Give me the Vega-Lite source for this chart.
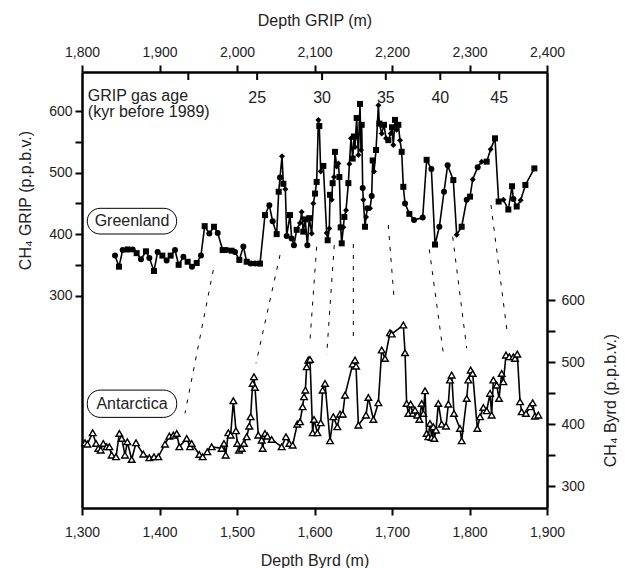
{
"$schema":"https://vega.github.io/schema/vega-lite/v6.json",
"width":465,"height":436,
"autosize":"none",
"padding":{"left":82,"top":72,"right":78,"bottom":60},
"config":{
 "view":{"stroke":null},
 "font":"Liberation Sans",
 "axis":{"grid":false,"domainColor":"black","domainWidth":2.5,"tickColor":"black","tickWidth":2,"tickSize":7,"labelFont":"Liberation Sans","labelFontSize":14,"labelColor":"#222","titleFont":"Liberation Sans","titleFontSize":16,"titleFontWeight":"normal","titleColor":"#222","labelFlush":false,"labelOverlap":false,"labelBound":false,"titleBaseline":"middle","titleAlign":"center"},
 "text":{"font":"Liberation Sans","fontSize":16,"color":"#222"}
},
"datasets":{
 "grip":[
{"depth":1842.6,"ch4":365,"lab":"c"},{"depth":1847.7,"ch4":347,"lab":"s"},{"depth":1852.5,"ch4":374,"lab":"c"},{"depth":1858.9,"ch4":375,"lab":"s"},{"depth":1865.4,"ch4":375,"lab":"c"},{"depth":1870.5,"ch4":369,"lab":"s"},{"depth":1876.1,"ch4":359,"lab":"c"},{"depth":1882.6,"ch4":372,"lab":"s"},{"depth":1886.9,"ch4":361,"lab":"c"},{"depth":1892.9,"ch4":340,"lab":"s"},{"depth":1897.6,"ch4":371,"lab":"c"},{"depth":1903.7,"ch4":365,"lab":"s"},{"depth":1909.2,"ch4":357,"lab":"c"},{"depth":1914.4,"ch4":365,"lab":"s"},{"depth":1920.0,"ch4":374,"lab":"c"},{"depth":1924.7,"ch4":350,"lab":"s"},{"depth":1930.8,"ch4":363,"lab":"c"},{"depth":1936.3,"ch4":355,"lab":"s"},{"depth":1941.9,"ch4":347,"lab":"c"},{"depth":1948.0,"ch4":353,"lab":"s"},{"depth":1953.5,"ch4":365,"lab":"c"},{"depth":1958.3,"ch4":413,"lab":"s"},{"depth":1964.3,"ch4":401,"lab":"c"},{"depth":1970.3,"ch4":412,"lab":"s"},{"depth":1975.1,"ch4":402,"lab":"c"},{"depth":1981.5,"ch4":374,"lab":"s"},{"depth":1986.7,"ch4":374,"lab":"c"},{"depth":1993.1,"ch4":373,"lab":"s"},{"depth":1997.4,"ch4":371,"lab":"c"},{"depth":2003.0,"ch4":358,"lab":"s"},{"depth":2008.2,"ch4":380,"lab":"c"},{"depth":2012.5,"ch4":355,"lab":"s"},{"depth":2017.6,"ch4":352,"lab":"c"},{"depth":2023.2,"ch4":352,"lab":"c"},{"depth":2029.7,"ch4":352,"lab":"s"},{"depth":2036.1,"ch4":431,"lab":"s"},{"depth":2041.7,"ch4":447,"lab":"c"},{"depth":2046.0,"ch4":421,"lab":"c"},{"depth":2051.2,"ch4":400,"lab":"s"},{"depth":2053.8,"ch4":469,"lab":"s"},{"depth":2055.5,"ch4":492,"lab":"c"},{"depth":2058.1,"ch4":527,"lab":"d"},{"depth":2059.8,"ch4":482,"lab":"s"},{"depth":2062.4,"ch4":473,"lab":"d"},{"depth":2064.1,"ch4":397,"lab":"c"},{"depth":2068.4,"ch4":431,"lab":"s"},{"depth":2070.5,"ch4":393,"lab":"c"},{"depth":2073.5,"ch4":382,"lab":"c"},{"depth":2077.0,"ch4":407,"lab":"s"},{"depth":2081.3,"ch4":418,"lab":"d"},
{"depth":2083.5,"ch4":436,"lab":"d"},{"depth":2085.5,"ch4":404,"lab":"s"},{"depth":2088.0,"ch4":424,"lab":"s"},{"depth":2090.8,"ch4":382,"lab":"c"},{"depth":2093.3,"ch4":426,"lab":"s"},{"depth":2096.4,"ch4":401,"lab":"d"},{"depth":2098.5,"ch4":450,"lab":"d"},{"depth":2100.7,"ch4":466,"lab":"s"},{"depth":2102.8,"ch4":485,"lab":"s"},{"depth":2105.0,"ch4":586,"lab":"d"},{"depth":2106.2,"ch4":576,"lab":"s"},{"depth":2108.0,"ch4":502,"lab":"d"},{"depth":2111.4,"ch4":511,"lab":"s"},{"depth":2115.7,"ch4":402,"lab":"d"},{"depth":2117.0,"ch4":390,"lab":"s"},{"depth":2119.1,"ch4":409,"lab":"d"},{"depth":2120.0,"ch4":464,"lab":"s"},{"depth":2122.2,"ch4":456,"lab":"d"},{"depth":2123.4,"ch4":483,"lab":"s"},{"depth":2125.2,"ch4":493,"lab":"d"},{"depth":2126.5,"ch4":534,"lab":"s"},{"depth":2128.6,"ch4":510,"lab":"d"},{"depth":2130.8,"ch4":515,"lab":"d"},{"depth":2132.1,"ch4":493,"lab":"s"},{"depth":2133.8,"ch4":411,"lab":"s"},{"depth":2135.1,"ch4":385,"lab":"s"},{"depth":2137.2,"ch4":411,"lab":"d"},{"depth":2138.5,"ch4":428,"lab":"s"},{"depth":2140.7,"ch4":439,"lab":"d"},{"depth":2143.7,"ch4":483,"lab":"s"},{"depth":2145.0,"ch4":514,"lab":"d"},{"depth":2147.1,"ch4":556,"lab":"d"},{"depth":2149.3,"ch4":523,"lab":"s"},{"depth":2151.0,"ch4":559,"lab":"s"},{"depth":2152.3,"ch4":542,"lab":"d"},{"depth":2154.4,"ch4":589,"lab":"s"},{"depth":2156.6,"ch4":529,"lab":"d"},{"depth":2158.7,"ch4":612,"lab":"s"},{"depth":2160.0,"ch4":537,"lab":"d"},{"depth":2160.9,"ch4":578,"lab":"s"},{"depth":2162.2,"ch4":475,"lab":"c"},{"depth":2163.0,"ch4":456,"lab":"d"},{"depth":2165.2,"ch4":412,"lab":"s"},{"depth":2166.5,"ch4":428,"lab":"d"},{"depth":2168.2,"ch4":442,"lab":"c"},{"depth":2171.6,"ch4":442,"lab":"d"},{"depth":2173.8,"ch4":462,"lab":"c"},{"depth":2175.1,"ch4":520,"lab":"s"},{"depth":2176.8,"ch4":502,"lab":"d"},{"depth":2179.4,"ch4":537,"lab":"s"},{"depth":2182.4,"ch4":610,"lab":"d"},{"depth":2183.7,"ch4":580,"lab":"s"},{"depth":2186.7,"ch4":564,"lab":"d"},{"depth":2189.7,"ch4":578,"lab":"s"},{"depth":2192.3,"ch4":556,"lab":"d"},{"depth":2195.3,"ch4":553,"lab":"s"},{"depth":2198.3,"ch4":564,"lab":"d"},{"depth":2200.0,"ch4":574,"lab":"s"},{"depth":2201.7,"ch4":545,"lab":"d"},{"depth":2203.9,"ch4":586,"lab":"s"},{"depth":2206.0,"ch4":570,"lab":"d"},{"depth":2208.2,"ch4":578,"lab":"s"},{"depth":2210.3,"ch4":553,"lab":"d"},{"depth":2212.5,"ch4":534,"lab":"s"},{"depth":2214.6,"ch4":477,"lab":"s"},{"depth":2216.8,"ch4":450,"lab":"c"},{"depth":2222.4,"ch4":433,"lab":"s"},{"depth":2228.4,"ch4":423,"lab":"c"},{"depth":2239.6,"ch4":427,"lab":"c"},{"depth":2244.7,"ch4":521,"lab":"s"},{"depth":2250.8,"ch4":506,"lab":"c"},{"depth":2255.5,"ch4":383,"lab":"s"},{"depth":2261.1,"ch4":412,"lab":"c"},{"depth":2267.1,"ch4":469,"lab":"c"},{"depth":2271.8,"ch4":512,"lab":"c"},{"depth":2279.1,"ch4":488,"lab":"s"},{"depth":2283.5,"ch4":399,"lab":"d"},{"depth":2289.9,"ch4":412,"lab":"s"},{"depth":2296.4,"ch4":456,"lab":"c"},{"depth":2300.7,"ch4":461,"lab":"s"},{"depth":2304.1,"ch4":489,"lab":"d"},{"depth":2310.6,"ch4":509,"lab":"c"},{"depth":2315.7,"ch4":518,"lab":"d"},{"depth":2322.2,"ch4":518,"lab":"s"},{"depth":2327.3,"ch4":538,"lab":"d"},{"depth":2332.9,"ch4":556,"lab":"s"},{"depth":2337.6,"ch4":453,"lab":"s"},{"depth":2343.7,"ch4":456,"lab":"d"},{"depth":2350.1,"ch4":440,"lab":"s"},{"depth":2354.9,"ch4":478,"lab":"s"},{"depth":2356.6,"ch4":457,"lab":"c"},{"depth":2360.9,"ch4":445,"lab":"s"},{"depth":2366.0,"ch4":455,"lab":"d"},{"depth":2372.1,"ch4":480,"lab":"s"},{"depth":2383.7,"ch4":507,"lab":"s"}
 ],
 "byrd":[
{"depth":1303.9,"ch4":370.2},{"depth":1306.9,"ch4":368.0},{"depth":1313.8,"ch4":386.3},{"depth":1318.1,"ch4":369.1},{"depth":1321.1,"ch4":361.1},{"depth":1324.1,"ch4":358.4},{"depth":1327.5,"ch4":369.1},{"depth":1331.8,"ch4":363.7},{"depth":1335.3,"ch4":363.7},{"depth":1338.3,"ch4":350.3},{"depth":1343.9,"ch4":347.6},{"depth":1348.2,"ch4":385.2},{"depth":1351.2,"ch4":377.2},{"depth":1355.5,"ch4":350.3},{"depth":1358.5,"ch4":371.8},{"depth":1364.1,"ch4":343.3},{"depth":1369.7,"ch4":370.2},{"depth":1379.1,"ch4":351.9},{"depth":1386.9,"ch4":346.0},{"depth":1392.9,"ch4":347.6},{"depth":1398.5,"ch4":347.6},{"depth":1407.1,"ch4":368.0},{"depth":1412.7,"ch4":381.0},{"depth":1417.8,"ch4":382.6},{"depth":1422.2,"ch4":385.2},{"depth":1425.6,"ch4":363.7},{"depth":1435.1,"ch4":377.2},{"depth":1439.4,"ch4":363.7},{"depth":1441.5,"ch4":369.1},{"depth":1451.4,"ch4":351.4},{"depth":1455.7,"ch4":347.6},{"depth":1461.7,"ch4":355.7},{"depth":1467.3,"ch4":363.7},{"depth":1480.2,"ch4":361.1},{"depth":1483.2,"ch4":369.1},{"depth":1485.4,"ch4":350.3},{"depth":1488.8,"ch4":386.3},{"depth":1491.8,"ch4":382.6},{"depth":1495.3,"ch4":437.9},{"depth":1498.7,"ch4":389.5},{"depth":1500.4,"ch4":369.1},{"depth":1502.6,"ch4":358.4},{"depth":1506.0,"ch4":361.1},{"depth":1509.0,"ch4":369.1},{"depth":1512.5,"ch4":379.9},{"depth":1515.9,"ch4":397.1},{"depth":1517.6,"ch4":412.1},{"depth":1520.2,"ch4":465.9},{"depth":1521.9,"ch4":476.6},{"depth":1523.2,"ch4":459.4},{"depth":1527.5,"ch4":382.6},{"depth":1531.8,"ch4":374.5},{"depth":1533.1,"ch4":361.1},{"depth":1536.1,"ch4":385.2},{"depth":1539.1,"ch4":380.9},{"depth":1544.7,"ch4":375.6},{"depth":1557.6,"ch4":363.7},{"depth":1563.2,"ch4":379.9},{"depth":1567.5,"ch4":369.1},{"depth":1571.8,"ch4":366.4},{"depth":1577.8,"ch4":400.3},{"depth":1581.3,"ch4":404.1},{"depth":1584.7,"ch4":428.3},{"depth":1586.5,"ch4":444.4},{"depth":1588.2,"ch4":455.1},{"depth":1589.9,"ch4":492.8},{"depth":1592.0,"ch4":503.5},{"depth":1594.2,"ch4":504.6},{"depth":1597.6,"ch4":386.3},{"depth":1599.4,"ch4":407.8},{"depth":1603.7,"ch4":386.3},{"depth":1608.0,"ch4":402.5},{"depth":1610.5,"ch4":455.1},{"depth":1613.6,"ch4":465.9},{"depth":1620.0,"ch4":373.4},{"depth":1624.3,"ch4":412.1},{"depth":1629.5,"ch4":396.0},{"depth":1632.9,"ch4":416.4},{"depth":1636.4,"ch4":416.4},{"depth":1639.4,"ch4":447.1},{"depth":1649.3,"ch4":497.1},{"depth":1652.3,"ch4":503.5},{"depth":1653.6,"ch4":493.8},{"depth":1656.6,"ch4":398.7},{"depth":1666.5,"ch4":414.8},{"depth":1669.5,"ch4":443.3},{"depth":1676.0,"ch4":407.8},{"depth":1682.4,"ch4":434.7},{"depth":1686.7,"ch4":519.7},{"depth":1691.0,"ch4":506.2},{"depth":1697.4,"ch4":547.6},{"depth":1699.6,"ch4":545.5},{"depth":1714.6,"ch4":560.0},{"depth":1716.8,"ch4":515.4},{"depth":1718.9,"ch4":433.6},{"depth":1721.1,"ch4":417.5},{"depth":1724.1,"ch4":432.6},{"depth":1726.7,"ch4":417.5},{"depth":1729.7,"ch4":422.9},{"depth":1732.7,"ch4":414.8},{"depth":1735.3,"ch4":407.8},{"depth":1738.3,"ch4":433.6},{"depth":1740.4,"ch4":417.5},{"depth":1742.6,"ch4":454.1},{"depth":1744.7,"ch4":385.2},{"depth":1746.9,"ch4":379.9},{"depth":1749.0,"ch4":401.4},{"depth":1751.2,"ch4":378.8},{"depth":1753.3,"ch4":396.0},{"depth":1754.6,"ch4":377.2},{"depth":1756.8,"ch4":390.6},{"depth":1759.8,"ch4":433.6},{"depth":1764.1,"ch4":400.3},{"depth":1769.7,"ch4":397.1},{"depth":1772.7,"ch4":432.6},{"depth":1774.8,"ch4":471.3},{"depth":1777.0,"ch4":479.3},{"depth":1780.0,"ch4":417.5},{"depth":1787.7,"ch4":393.3},{"depth":1789.9,"ch4":373.4},{"depth":1796.4,"ch4":441.7},{"depth":1798.5,"ch4":471.3},{"depth":1801.5,"ch4":487.4},{"depth":1804.1,"ch4":482.0},{"depth":1810.1,"ch4":393.3},{"depth":1813.6,"ch4":412.1},{"depth":1817.9,"ch4":427.2},{"depth":1822.2,"ch4":421.8},{"depth":1826.5,"ch4":449.8},{"depth":1828.6,"ch4":414.8},{"depth":1830.8,"ch4":471.3},{"depth":1835.1,"ch4":463.2},{"depth":1838.1,"ch4":441.7},{"depth":1841.5,"ch4":482.0},{"depth":1843.7,"ch4":468.6},{"depth":1847.1,"ch4":511.6},{"depth":1851.4,"ch4":508.9},{"depth":1856.6,"ch4":508.9},{"depth":1858.7,"ch4":506.2},{"depth":1861.7,"ch4":513.2},{"depth":1865.2,"ch4":436.3},{"depth":1867.3,"ch4":420.2},{"depth":1872.9,"ch4":417.5},{"depth":1878.1,"ch4":428.3},{"depth":1881.5,"ch4":434.7},{"depth":1884.5,"ch4":413.2},{"depth":1888.8,"ch4":414.8}
 ],
 "links":[
{"d1":1969.4,"c1":341.5,"d2":1932.9,"c2":108.1},
{"d1":2055.5,"c1":365.9,"d2":2024.5,"c2":189.6},
{"d1":2102.8,"c1":379.5,"d2":2094.2,"c2":227.5},
{"d1":2125.5,"c1":382.2,"d2":2115.7,"c2":203.1},
{"d1":2150.1,"c1":383.9,"d2":2150.1,"c2":230.3},
{"d1":2195.2,"c1":414.8,"d2":2203.0,"c2":290.0},
{"d1":2248.1,"c1":375.2,"d2":2267.1,"c2":197.7},
{"d1":2278.3,"c1":395.8,"d2":2296.4,"c2":214.0},
{"d1":2327.7,"c1":447.4,"d2":2348.8,"c2":238.4}
 ],
 "ages":[
{"depth":1937.2,"age":""},{"depth":2026.0,"age":"25"},{"depth":2109.8,"age":"30"},{"depth":2192.0,"age":"35"},{"depth":2262.3,"age":"40"},{"depth":2338.4,"age":"45"}
 ]
},
"layer":[
 {"layer":[
  {"data":{"name":"grip"},
   "mark":{"type":"line","color":"black","strokeWidth":1.6},
   "encoding":{
    "x":{"field":"depth","type":"quantitative","scale":{"domain":[1800,2400],"nice":false,"zero":false},
      "axis":{"orient":"top","title":"Depth GRIP (m)","values":[1800,1850,1900,1950,2000,2050,2100,2150,2200,2250,2300,2350,2400],
        "labelExpr":"datum.value % 100 === 0 ? format(datum.value, ',') : ''",
        "labelPadding":6,"titleX":232.5,"titleY":-52,
        "encode":{"ticks":{"update":{"y2":{"signal":"datum.value % 100 === 0 ? -7 : -4"}}}}}},
    "y":{"field":"ch4","type":"quantitative","scale":{"domain":[-46,664],"nice":false,"zero":false},
      "axis":{"orient":"left","title":"CH₄ GRIP (p.p.b.v.)","values":[300,350,400,450,500,550,600],
        "labelExpr":"datum.value % 100 === 0 ? format(datum.value, ',') : ''",
        "labelPadding":3,"titleAngle":270,"titleX":-57,"titleY":128,
        "encode":{"ticks":{"update":{"x2":{"signal":"datum.value % 100 === 0 ? -7 : -4"}}}}}}}},
  {"data":{"name":"links"},
   "mark":{"type":"rule","color":"black","strokeWidth":1,"strokeDash":[4,7]},
   "encoding":{
    "x":{"field":"d1","type":"quantitative"},
    "x2":{"field":"d2"},
    "y":{"field":"c1","type":"quantitative"},
    "y2":{"field":"c2"}}},
  {"data":{"name":"grip"},
   "mark":{"type":"point","filled":true,"color":"black","opacity":1,"size":36},
   "encoding":{
    "x":{"field":"depth","type":"quantitative"},
    "y":{"field":"ch4","type":"quantitative"},
    "shape":{"field":"lab","type":"nominal","scale":{"domain":["c","s","d"],"range":["circle","square","diamond"]},"legend":null}}},
  {"data":{"name":"ages"},
   "mark":{"type":"rule","color":"black","strokeWidth":2},
   "encoding":{
    "x":{"field":"depth","type":"quantitative"},
    "y":{"datum":664,"type":"quantitative"},
    "y2":{"datum":651}}},
  {"data":{"name":"ages"},
   "mark":{"type":"text","align":"center","baseline":"middle","fontSize":16},
   "encoding":{
    "x":{"field":"depth","type":"quantitative"},
    "y":{"datum":622,"type":"quantitative"},
    "text":{"field":"age"}}},
  {"data":{"values":[{}]},
   "mark":{"type":"text","align":"left","baseline":"middle","fontSize":16},
   "encoding":{
    "x":{"datum":1807.5,"type":"quantitative"},
    "y":{"datum":625,"type":"quantitative"},
    "text":{"value":"GRIP gas age"}}},
  {"data":{"values":[{}]},
   "mark":{"type":"text","align":"left","baseline":"middle","fontSize":16},
   "encoding":{
    "x":{"datum":1807.5,"type":"quantitative"},
    "y":{"datum":599,"type":"quantitative"},
    "text":{"value":"(kyr before 1989)"}}},
  {"data":{"values":[{}]},
   "mark":{"type":"rect","fill":"white","stroke":"black","strokeWidth":1,"cornerRadius":13},
   "encoding":{
    "x":{"datum":1806.8,"type":"quantitative"},
    "x2":{"datum":1922.2},
    "y":{"datum":442,"type":"quantitative"},
    "y2":{"datum":400.2}}},
  {"data":{"values":[{}]},
   "mark":{"type":"text","align":"center","baseline":"middle","fontSize":16},
   "encoding":{
    "x":{"datum":1864.5,"type":"quantitative"},
    "y":{"datum":421,"type":"quantitative"},
    "text":{"value":"Greenland"}}}
 ]},
 {"layer":[
  {"data":{"name":"byrd"},
   "mark":{"type":"line","color":"black","strokeWidth":1.6},
   "encoding":{
    "x":{"field":"depth","type":"quantitative","scale":{"domain":[1300,1900],"nice":false,"zero":false},
      "axis":{"orient":"bottom","title":"Depth Byrd (m)","values":[1300,1350,1400,1450,1500,1550,1600,1650,1700,1750,1800,1850,1900],
        "labelExpr":"datum.value % 100 === 0 ? format(datum.value, ',') : ''",
        "labelPadding":10,"titleX":232.5,"titleY":52,
        "encode":{"ticks":{"update":{"y2":{"signal":"datum.value % 100 === 0 ? 7 : 4"}}}}}},
    "y":{"field":"ch4","type":"quantitative","scale":{"domain":[265,968],"nice":false,"zero":false},
      "axis":{"orient":"right","title":"CH₄ Byrd (p.p.b.v.)","values":[300,350,400,450,500,550,600],
        "labelExpr":"datum.value % 100 === 0 ? format(datum.value, ',') : ''",
        "tickSize":8,"labelPadding":6,"titleAngle":270,"titleX":63,"titleY":328,
        "encode":{"ticks":{"update":{"x2":{"signal":"datum.value % 100 === 0 ? 8 : 5"}}}}}}}},
  {"data":{"name":"byrd"},
   "mark":{"type":"point","shape":"triangle-up","filled":true,"fill":"white","stroke":"black","strokeWidth":1.4,"opacity":1,"size":44},
   "encoding":{
    "x":{"field":"depth","type":"quantitative"},
    "y":{"field":"ch4","type":"quantitative"}}},
  {"data":{"values":[{}]},
   "mark":{"type":"rect","fill":"white","stroke":"black","strokeWidth":1,"cornerRadius":13},
   "encoding":{
    "x":{"datum":1306.8,"type":"quantitative"},
    "x2":{"datum":1422.2},
    "y":{"datum":455.1,"type":"quantitative"},
    "y2":{"datum":411.1}}},
  {"data":{"values":[{}]},
   "mark":{"type":"text","align":"center","baseline":"middle","fontSize":16},
   "encoding":{
    "x":{"datum":1364.5,"type":"quantitative"},
    "y":{"datum":433,"type":"quantitative"},
    "text":{"value":"Antarctica"}}}
 ]}
],
"resolve":{"scale":{"x":"independent","y":"independent"},"axis":{"x":"independent","y":"independent"}}
}
